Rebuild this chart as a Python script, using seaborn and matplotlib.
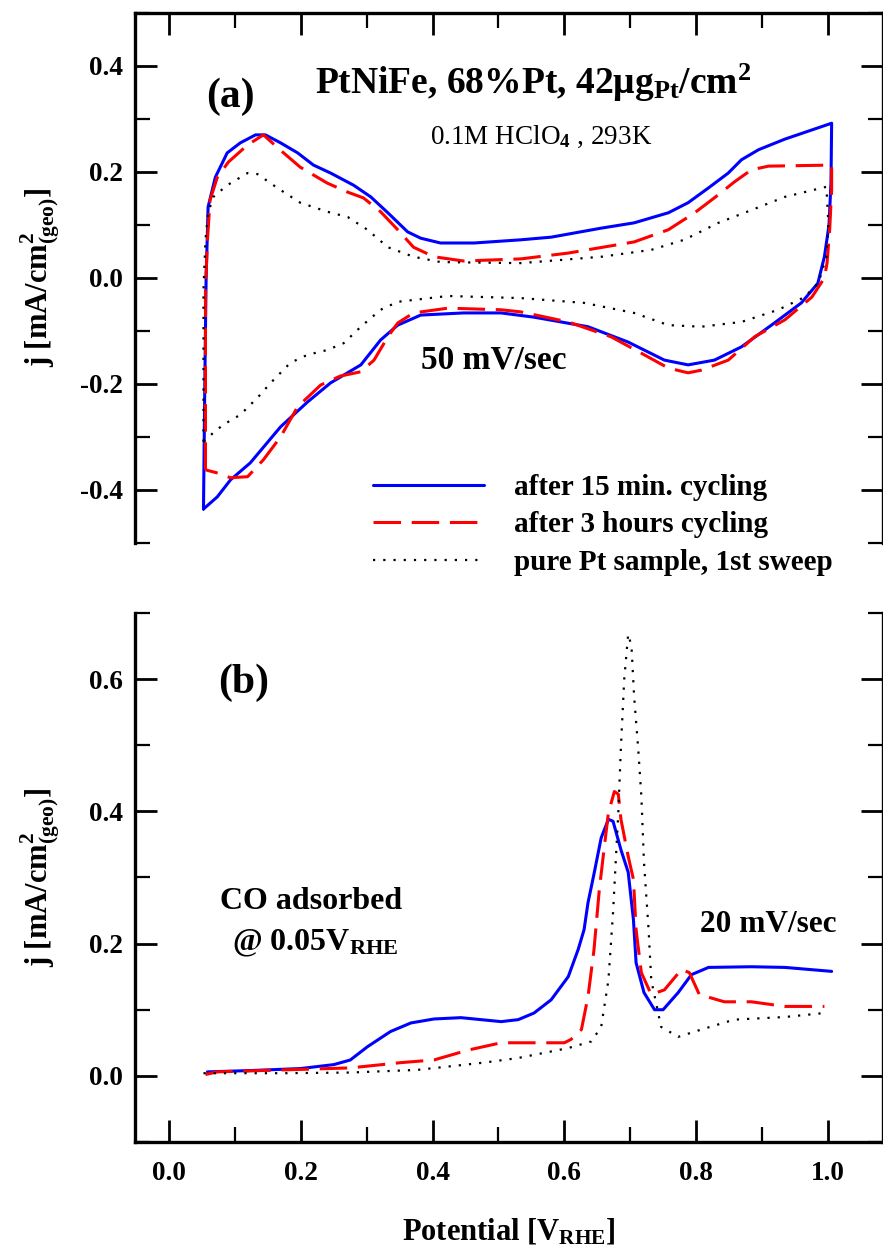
import seaborn as sns
import matplotlib.pyplot as plt
from matplotlib.ticker import MultipleLocator

sns.set_style("ticks")
plt.rcParams['font.family'] = ['Liberation Serif', 'DejaVu Serif']
plt.rcParams['font.weight'] = 'bold'
plt.rcParams['mathtext.fontset'] = 'custom'
plt.rcParams['mathtext.rm'] = 'Liberation Serif:bold'
plt.rcParams['mathtext.bf'] = 'Liberation Serif:bold'
plt.rcParams['mathtext.it'] = 'Liberation Serif:bold:italic'
plt.rcParams['mathtext.sf'] = 'Liberation Serif'
plt.rcParams['mathtext.default'] = 'rm'
plt.rcParams['axes.unicode_minus'] = False
for key in ['text.color', 'axes.labelcolor', 'xtick.color', 'ytick.color', 'axes.edgecolor']:
    plt.rcParams[key] = 'black'

# (a) cyclic voltammograms, 50 mV/s (closed loops: anodic then cathodic)
cv_v_15min = [0.052, 0.054, 0.056, 0.059, 0.070, 0.088, 0.108, 0.131, 0.146, 0.169, 0.195,
              0.219, 0.245, 0.280, 0.306, 0.332, 0.362, 0.382, 0.412, 0.463, 0.534, 0.580,
              0.656, 0.706, 0.758, 0.788, 0.819, 0.849, 0.869, 0.895, 0.935, 1.006, 1.005,
              1.002, 0.995, 0.985, 0.960, 0.919, 0.869, 0.828, 0.788, 0.752, 0.697, 0.636,
              0.554, 0.504, 0.447, 0.382, 0.347, 0.321, 0.291, 0.245, 0.210, 0.169, 0.123,
              0.093, 0.073, 0.052]
cv_j_15min = [-0.436, -0.200, 0.000, 0.134, 0.190, 0.236, 0.255, 0.270, 0.270, 0.255, 0.236,
              0.213, 0.198, 0.175, 0.153, 0.123, 0.087, 0.075, 0.066, 0.066, 0.072, 0.077,
              0.094, 0.104, 0.123, 0.142, 0.170, 0.198, 0.223, 0.242, 0.262, 0.292, 0.180,
              0.100, 0.040, -0.010, -0.047, -0.085, -0.130, -0.155, -0.164, -0.155, -0.121,
              -0.092, -0.074, -0.066, -0.066, -0.070, -0.089, -0.117, -0.164, -0.198, -0.234,
              -0.281, -0.349, -0.381, -0.413, -0.436]

cv_v_3h = [0.055, 0.055, 0.055, 0.058, 0.062, 0.073, 0.090, 0.119, 0.143, 0.169, 0.199,
           0.240, 0.271, 0.295, 0.321, 0.347, 0.371, 0.402, 0.447, 0.534, 0.606, 0.706,
           0.758, 0.798, 0.834, 0.858, 0.884, 0.910, 1.006, 1.006, 1.003, 0.999, 0.995,
           0.976, 0.935, 0.889, 0.849, 0.808, 0.788, 0.758, 0.717, 0.671, 0.606, 0.534,
           0.504, 0.423, 0.371, 0.347, 0.332, 0.311, 0.291, 0.260, 0.230, 0.195, 0.169,
           0.143, 0.119, 0.093, 0.073, 0.055]
cv_j_3h = [-0.362, -0.236, -0.023, 0.072, 0.147, 0.190, 0.219, 0.251, 0.270, 0.241, 0.209,
           0.179, 0.162, 0.151, 0.125, 0.091, 0.058, 0.040, 0.032, 0.036, 0.047, 0.068,
           0.091, 0.123, 0.157, 0.181, 0.204, 0.211, 0.213, 0.166, 0.091, 0.028, 0.000,
           -0.036, -0.079, -0.111, -0.155, -0.174, -0.179, -0.170, -0.142, -0.111, -0.083,
           -0.064, -0.060, -0.057, -0.066, -0.085, -0.111, -0.155, -0.177, -0.185, -0.202,
           -0.243, -0.300, -0.343, -0.375, -0.377, -0.368, -0.362]

cv_v_pt = [0.052, 0.052, 0.055, 0.059, 0.067, 0.088, 0.119, 0.134, 0.164, 0.199, 0.240,
           0.271, 0.301, 0.332, 0.371, 0.412, 0.534, 0.656, 0.732, 0.782, 0.834, 0.884,
           0.935, 0.998, 1.001, 0.998, 0.986, 0.965, 0.925, 0.869, 0.808, 0.758, 0.706,
           0.630, 0.534, 0.423, 0.347, 0.321, 0.291, 0.265, 0.240, 0.210, 0.184, 0.154,
           0.134, 0.108, 0.082, 0.067, 0.052]
cv_j_pt = [-0.309, -0.023, 0.072, 0.123, 0.153, 0.175, 0.198, 0.196, 0.170, 0.142, 0.125,
           0.115, 0.091, 0.058, 0.040, 0.030, 0.028, 0.040, 0.053, 0.072, 0.104, 0.128,
           0.153, 0.172, 0.104, 0.040, -0.009, -0.036, -0.060, -0.083, -0.092, -0.089,
           -0.066, -0.047, -0.038, -0.034, -0.045, -0.060, -0.092, -0.123, -0.136, -0.145,
           -0.160, -0.198, -0.226, -0.258, -0.277, -0.292, -0.309]

# (b) CO stripping, 20 mV/s
co_v_15min = [0.058, 0.123, 0.199, 0.250, 0.275, 0.301, 0.336, 0.367, 0.402, 0.443, 0.504,
              0.530, 0.554, 0.580, 0.606, 0.621, 0.630, 0.636, 0.645, 0.656, 0.667, 0.674,
              0.686, 0.697, 0.705, 0.709, 0.721, 0.737, 0.750, 0.773, 0.793, 0.819, 0.884,
              0.935, 1.006]
co_j_15min = [0.006, 0.008, 0.011, 0.017, 0.024, 0.044, 0.067, 0.080, 0.086, 0.088, 0.082,
              0.085, 0.095, 0.115, 0.150, 0.191, 0.221, 0.262, 0.305, 0.360, 0.388, 0.385,
              0.342, 0.308, 0.236, 0.171, 0.126, 0.100, 0.100, 0.126, 0.153, 0.164, 0.165,
              0.164, 0.158]

co_v_3h = [0.055, 0.073, 0.174, 0.275, 0.352, 0.402, 0.454, 0.504, 0.580, 0.600, 0.610,
           0.626, 0.636, 0.645, 0.653, 0.660, 0.667, 0.676, 0.682, 0.686, 0.697, 0.705,
           0.709, 0.717, 0.732, 0.752, 0.778, 0.790, 0.805, 0.843, 0.884, 0.935, 0.995]
co_j_3h = [0.002, 0.006, 0.009, 0.012, 0.020, 0.024, 0.039, 0.050, 0.050, 0.050, 0.055,
           0.070, 0.120, 0.190, 0.280, 0.340, 0.398, 0.430, 0.426, 0.388, 0.332, 0.297,
           0.221, 0.156, 0.123, 0.130, 0.161, 0.156, 0.123, 0.112, 0.112, 0.105, 0.105]

co_v_pt = [0.052, 0.174, 0.275, 0.377, 0.478, 0.530, 0.606, 0.641, 0.656, 0.667, 0.674,
           0.682, 0.686, 0.691, 0.697, 0.702, 0.706, 0.712, 0.717, 0.721, 0.728, 0.732,
           0.747, 0.773, 0.808, 0.858, 0.935, 0.995]
co_j_pt = [0.004, 0.004, 0.005, 0.009, 0.020, 0.027, 0.042, 0.052, 0.074, 0.145, 0.247,
           0.398, 0.498, 0.600, 0.668, 0.650, 0.574, 0.498, 0.423, 0.323, 0.221, 0.145,
           0.074, 0.059, 0.070, 0.085, 0.089, 0.095]

labels = ["after 15 min. cycling", "after 3 hours cycling", "pure Pt sample, 1st sweep"]
styles = [dict(color="#0000ff", lw=2.2, linestyle="-"),
          dict(color="#ff0000", lw=2.2, linestyle=(0, (9, 3.5))),
          dict(color="black", lw=1.6, linestyle=(0, (1, 3.6)))]

fig = plt.figure(figsize=(8.83, 12.49), dpi=100)
ax1 = fig.add_axes([0.1529, 0.5653, 0.8471, 0.4243])
ax2 = fig.add_axes([0.1529, 0.0857, 0.8471, 0.4235])

for (vv, jj), lab, st in zip([(cv_v_15min, cv_j_15min), (cv_v_3h, cv_j_3h), (cv_v_pt, cv_j_pt)], labels, styles):
    sns.lineplot(x=vv, y=jj, sort=False, estimator=None, ax=ax1, label=lab, **st)
for (vv, jj), st in zip([(co_v_15min, co_j_15min), (co_v_3h, co_j_3h), (co_v_pt, co_j_pt)], styles):
    sns.lineplot(x=vv, y=jj, sort=False, estimator=None, ax=ax2, **st)

for ax in (ax1, ax2):
    ax.set_xlim(-0.052, 1.084)
    ax.xaxis.set_major_locator(MultipleLocator(0.2))
    ax.xaxis.set_minor_locator(MultipleLocator(0.1))
    ax.yaxis.set_major_locator(MultipleLocator(0.2))
    ax.yaxis.set_minor_locator(MultipleLocator(0.1))
    ax.tick_params(which='both', direction='in', labelsize=19.5)
    ax.tick_params(which='major', length=16, width=2)
    ax.tick_params(which='minor', length=10.5, width=1.6)
    ax.tick_params(axis='y', which='both', left=True, right=True, pad=9)
    for s in ax.spines.values():
        s.set_linewidth(2.4)
    ax.set_ylabel("j [mA/cm$^{2}_{(geo)}$]", fontsize=22, fontweight='bold')
    ax.yaxis.set_label_coords(-0.098, 0.5)

ax1.set_ylim(-0.5, 0.5)
ax1.set_yticks([-0.4, -0.2, 0.0, 0.2, 0.4])
ax1.spines['bottom'].set_visible(False)
ax1.tick_params(axis='x', which='both', top=True, bottom=False, labeltop=False, labelbottom=False)
ax1.set_xlabel("")

ax2.set_ylim(-0.1, 0.7)
ax2.set_yticks([0.0, 0.2, 0.4, 0.6])
ax2.spines['top'].set_visible(False)
ax2.tick_params(axis='x', which='both', top=False, bottom=True, pad=14)
ax2.set_xlabel("Potential [V$_{RHE}$]", fontsize=22, fontweight='bold')
ax2.xaxis.set_label_coords(0.5, -0.14)

for ax in (ax1, ax2):
    for lab in ax.get_xticklabels() + ax.get_yticklabels():
        lab.set_fontweight('bold')

# annotations
ax1.text(0.093, 0.342, "(a)", fontsize=30, ha='center', va='center')
ax1.text(0.553, 0.368, "PtNiFe, 68%Pt, 42μg$_{Pt}$/cm$^{2}$", fontsize=27, ha='center', va='center')
ax1.text(0.565, 0.266, "0.1M HClO$_{\\mathsf{4}}$ , 293K", fontsize=19.5, fontweight='normal',
         ha='center', va='center')
ax1.text(0.493, -0.155, "50 mV/sec", fontsize=24, ha='center', va='center')

ax2.text(0.113, 0.595, "(b)", fontsize=30, ha='center', va='center')
ax2.text(0.215, 0.264, "CO adsorbed", fontsize=23, ha='center', va='center')
ax2.text(0.222, 0.200, "@ 0.05V$_{RHE}$", fontsize=23, ha='center', va='center')
ax2.text(0.909, 0.229, "20 mV/sec", fontsize=22.5, ha='center', va='center')

leg = ax1.legend(loc='upper left', bbox_to_anchor=(373 / 883, 1 - 474 / 1249),
                 bbox_transform=fig.transFigure, frameon=False, fontsize=21,
                 handlelength=3.8, handletextpad=1.05, labelspacing=0.36,
                 borderpad=0, borderaxespad=0)
for t in leg.get_texts():
    t.set_fontweight('bold')

fig.savefig("out.png", dpi=100)
